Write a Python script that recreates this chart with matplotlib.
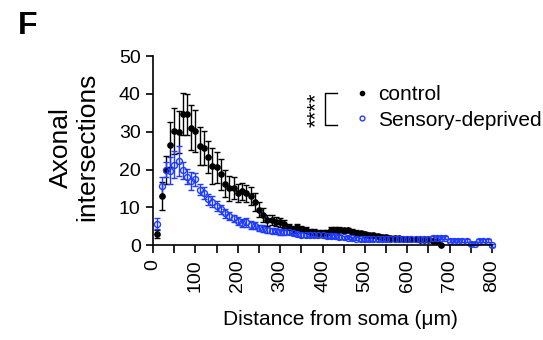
import numpy as np
import matplotlib
matplotlib.use("Agg")
import matplotlib.pyplot as plt
from matplotlib.ticker import MultipleLocator

plt.rcParams['font.family'] = ['Liberation Sans', 'DejaVu Sans']

# distance from soma (um)
dist_ctrl = np.arange(10, 690, 10)
dist_sd = np.arange(10, 810, 10)

# control: mean and SEM
ctrl_mean = [2.9, 13.0, 20.0, 26.6, 30.2, 29.9, 34.7, 34.6, 31.1, 30.2,
             26.3, 25.6, 23.4, 20.9, 20.6, 18.7, 16.3, 15.1, 15.1, 13.8,
             14.2, 13.7, 13.0, 11.4, 9.4, 8.0, 6.6, 6.6, 6.2, 6.0,
             5.6, 4.8, 4.2, 4.8, 4.3, 4.0, 3.6, 3.5, 3.3, 3.3,
             3.3, 4.0, 4.0, 4.1, 3.9, 4.0, 3.6, 3.3, 3.1, 3.0,
             2.8, 2.6, 2.4, 2.2, 2.1, 2.0, 1.9, 1.8, 1.7, 1.6,
             1.5, 1.5, 1.4, 1.3, 1.3, 1.2, 1.1, 0.0]
ctrl_sem = [1.0, 3.6, 3.7, 6.0, 6.0, 5.5, 5.5, 5.5, 5.9, 5.5,
            5.0, 4.5, 4.2, 4.7, 4.1, 4.0, 3.5, 3.3, 3.0, 2.5,
            2.3, 2.3, 2.5, 2.5, 2.0, 1.8, 1.5, 1.3, 1.2, 1.2,
            1.0, 0.9, 0.9, 0.8, 0.8, 0.8, 0.7, 0.7, 0.7, 0.7,
            0.6, 0.7, 0.7, 0.6, 0.6, 0.6, 0.6, 0.6, 0.6, 0.5,
            0.5, 0.5, 0.5, 0.5, 0.5, 0.4, 0.4, 0.4, 0.4, 0.4,
            0.4, 0.4, 0.3, 0.3, 0.3, 0.3, 0.3, 0.0]

# sensory-deprived: mean and SEM
sd_mean = [5.7, 15.6, 20.0, 19.7, 21.3, 22.2, 19.8, 18.1, 17.0, 17.4,
           14.7, 13.8, 12.1, 11.5, 10.3, 9.5, 8.4, 7.7, 7.1, 6.4,
           5.9, 6.1, 5.4, 5.1, 4.6, 4.4, 4.1, 3.8, 3.7, 3.5,
           3.4, 3.6, 3.3, 3.0, 2.8, 2.7, 2.6, 2.6, 2.6, 2.6,
           2.5, 2.5, 2.4, 2.2, 2.1, 2.0, 1.8, 1.7, 1.6, 1.6,
           1.5, 1.5, 1.5, 1.5, 1.5, 1.5, 1.5, 1.5, 1.6, 1.6,
           1.6, 1.6, 1.6, 1.6, 1.6, 1.9, 1.9, 2.0, 1.9, 1.1,
           1.1, 1.1, 1.1, 1.1, 0.4, 0.4, 1.1, 1.1, 1.1, 0.0]
sd_sem = [1.5, 2.5, 2.0, 3.5, 3.5, 4.0, 2.2, 2.0, 2.4, 1.7,
          1.5, 1.5, 1.5, 1.4, 1.3, 1.2, 1.1, 1.0, 1.0, 1.0,
          1.0, 1.2, 1.0, 0.9, 0.8, 0.8, 0.8, 0.7, 0.7, 0.7,
          0.6, 0.6, 0.6, 0.6, 0.6, 0.5, 0.5, 0.5, 0.5, 0.5,
          0.5, 0.5, 0.5, 0.5, 0.4, 0.4, 0.4, 0.4, 0.4, 0.4,
          0.4, 0.4, 0.4, 0.4, 0.4, 0.4, 0.4, 0.4, 0.4, 0.4,
          0.4, 0.4, 0.4, 0.4, 0.4, 0.4, 0.4, 0.4, 0.4, 0.4,
          0.4, 0.4, 0.4, 0.4, 0.4, 0.4, 0.4, 0.4, 0.4, 0.4]

blue = '#1f3cff'

fig = plt.figure(figsize=(5.43, 3.4), dpi=100)
ax = fig.add_axes([0.282, 0.279, 0.624, 0.556])

# error bars first, then markers on top
ax.errorbar(dist_ctrl, ctrl_mean, yerr=ctrl_sem, fmt='none', ecolor='black',
            elinewidth=1, capsize=2.5, capthick=1, clip_on=False)
ax.errorbar(dist_sd, sd_mean, yerr=sd_sem, fmt='none', ecolor=blue,
            elinewidth=1, capsize=2.5, capthick=1, clip_on=False)
ax.plot(dist_ctrl, ctrl_mean, 'o', color='black', ms=3.8, clip_on=False,
        label='control')
ax.plot(dist_sd, sd_mean, 'o', mfc='none', mec=blue, mew=1.0, ms=4.3,
        clip_on=False, label='Sensory-deprived')

ax.set_xlim(0, 800)
ax.set_ylim(0, 50)
ax.xaxis.set_major_locator(MultipleLocator(100))
ax.xaxis.set_minor_locator(MultipleLocator(50))
ax.yaxis.set_major_locator(MultipleLocator(10))
for s in ['top', 'right']:
    ax.spines[s].set_visible(False)
for s in ['left', 'bottom']:
    ax.spines[s].set_linewidth(1.2)
ax.tick_params(axis='x', which='both', length=6, width=1.2, labelsize=14,
               labelrotation=90, pad=4)
ax.tick_params(axis='y', length=5, width=1.2, labelsize=14, pad=4)

ax.set_xlabel('Distance from soma (μm)', fontsize=15)
ax.xaxis.set_label_coords(0.552, -0.345)
ax.set_ylabel('Axonal\nintersections', fontsize=19, linespacing=1.15)
ax.yaxis.set_label_coords(-0.158, 0.518)

leg = ax.legend(loc='center left', bbox_to_anchor=(0.602, 0.728), frameon=False,
                fontsize=15, handlelength=0.45, handletextpad=0.55,
                labelspacing=0.3, borderpad=0, borderaxespad=0,
                markerscale=0.8)

# significance bracket
ax.text(0.482, 0.714, '****', transform=ax.transAxes, rotation=90,
        fontsize=16, ha='center', va='center')
ax.plot([0.543, 0.507, 0.507, 0.543], [0.804, 0.804, 0.635, 0.635],
        transform=ax.transAxes, color='black', lw=1, clip_on=False)

fig.text(0.033, 0.9, 'F', fontsize=23, fontweight='bold')

fig.savefig('out.png', dpi=100)
